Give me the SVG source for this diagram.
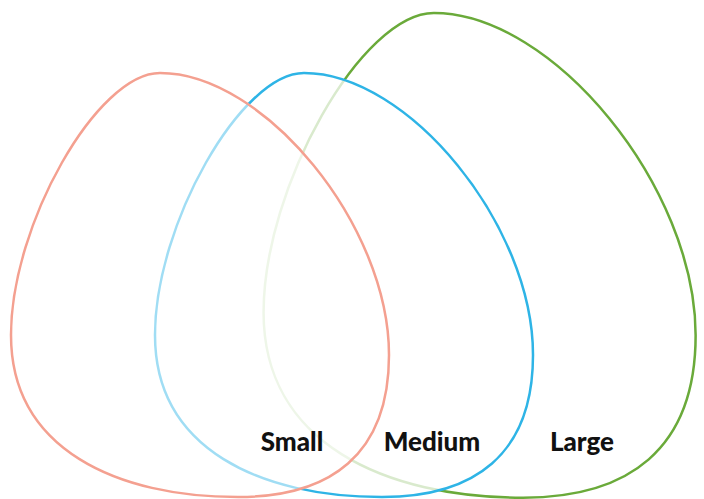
<svg xmlns="http://www.w3.org/2000/svg" width="704" height="499" viewBox="0 0 704 499">
<style>
.lbl{font-family:Lato,"Open Sans","Liberation Sans",sans-serif;font-weight:900;font-size:26px;fill:#111;text-anchor:middle}
</style>
<defs>
<path id="drop" d="M160,73 C264,73 389,225 389,355 C389,455 330,497 238,497 C118,497 11,450 11,335 C11,225 97,73 160,73 Z"/>
</defs>
<rect width="704" height="499" fill="#fff"/>
<g id="large">
<use href="#drop" transform="translate(251,-70.4) scale(1.143)" fill="#fff" stroke="#6aaa3a" stroke-width="2.2"/>
</g>
<g id="medium">
<use href="#drop" transform="translate(144,0)" fill="#fff" fill-opacity="0.75" stroke="#2eb4e6" stroke-width="2.5"/>
</g>
<g id="small">
<use href="#drop" fill="#fff" fill-opacity="0.55" stroke="#f4a090" stroke-width="2.5"/>
</g>
<g id="connectors"/>
<g id="labels">
<text class="lbl" x="292" y="451">Small</text>
<text class="lbl" x="432" y="451">Medium</text>
<text class="lbl" x="582" y="451">Large</text>
</g>
</svg>
